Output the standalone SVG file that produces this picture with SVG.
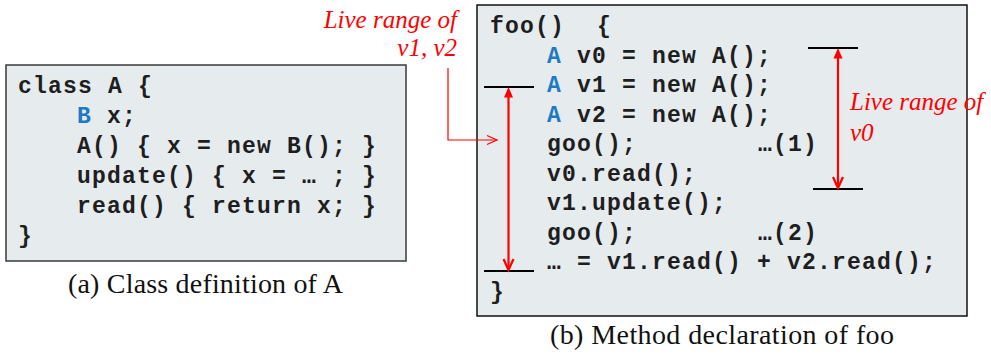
<svg xmlns="http://www.w3.org/2000/svg" width="991" height="362" viewBox="0 0 991 362">
  <style>
    .box { fill: #e6ebee; stroke: #3a3a3a; stroke-width: 1.5; }
    .code { font-family: "Liberation Mono", "Courier New", monospace; font-weight: bold; font-size: 23px; letter-spacing: 1.2px; fill: #1e1e1e; }
    .kw { fill: #1f7ac4; }
    .note { font-family: "Liberation Serif", "Times New Roman", serif; font-style: italic; font-size: 25px; fill: #ff0000; }
    .caption { font-family: "Liberation Serif", "Times New Roman", serif; font-size: 28px; fill: #111; }
    .bar { stroke: #000; stroke-width: 2.2; }
    .range { stroke: #ff0000; stroke-width: 2.2; fill: none; }
    .pointer { stroke: #ff0000; stroke-width: 1.2; fill: none; }
  </style>
  <defs>
    <marker id="chevron" markerUnits="userSpaceOnUse" orient="auto" refX="0" refY="0" overflow="visible">
      <path d="M-10,-4.5 L0,0 L-10,4.5" fill="none" stroke="#ff0000" stroke-width="1.2"/>
    </marker>
  </defs>

  <!-- (a) class A -->
  <g id="classA">
    <rect class="box" x="6" y="65" width="400" height="196"/>
    <text class="code" x="18" y="93">class A {</text>
    <text class="code" x="77" y="123"><tspan class="kw">B</tspan> x;</text>
    <text class="code" x="77" y="153">A() { x = new B(); }</text>
    <text class="code" x="77" y="183">update() { x = … ; }</text>
    <text class="code" x="77" y="213">read() { return x; }</text>
    <text class="code" x="18" y="243">}</text>
  </g>

  <!-- (b) foo -->
  <g id="fooMethod">
    <rect class="box" x="477" y="5" width="490" height="311" style="stroke:#111"/>
    <text class="code" x="490" y="33">foo()</text>
    <text class="code" x="597" y="33">{</text>
    <text class="code" x="547" y="63"><tspan class="kw">A</tspan> v0 = new A();</text>
    <text class="code" x="547" y="92"><tspan class="kw">A</tspan> v1 = new A();</text>
    <text class="code" x="547" y="122"><tspan class="kw">A</tspan> v2 = new A();</text>
    <text class="code" x="547" y="151">goo();</text>
    <text class="code" x="758" y="151">…(1)</text>
    <text class="code" x="547" y="181">v0.read();</text>
    <text class="code" x="547" y="210">v1.update();</text>
    <text class="code" x="547" y="240">goo();</text>
    <text class="code" x="758" y="240">…(2)</text>
    <text class="code" x="547" y="269">… = v1.read() + v2.read();</text>
    <text class="code" x="490" y="299">}</text>
  </g>

  <!-- live range labels -->
  <g id="labelV1V2">
    <text class="note" x="457" y="28" text-anchor="end">Live range of</text>
    <text class="note" x="457" y="56" text-anchor="end">v1, v2</text>
  </g>
  <g id="labelV0">
    <text class="note" x="850" y="110">Live range of</text>
    <text class="note" x="850" y="141">v0</text>
  </g>

  <!-- captions -->
  <g id="captionA">
    <text class="caption" x="68" y="293" textLength="275">(a) Class definition of A</text>
  </g>
  <g id="captionB">
    <text class="caption" x="550" y="344" textLength="344">(b) Method declaration of foo</text>
  </g>

  <!-- connectors: live-range arrows and pointer -->
  <g id="connectors">
    <line class="bar" x1="484" y1="87" x2="534" y2="87"/>
    <line class="bar" x1="484" y1="271" x2="534" y2="271"/>
    <line class="range" x1="508.5" y1="97" x2="508.5" y2="268"/>
    <path d="M508.5,87 L504,97.5 L513,97.5 Z" fill="#ff0000"/>
    <path class="range" d="M503.5,259 L508.5,270 L513.5,259"/>

    <line class="bar" x1="808" y1="48" x2="858" y2="48"/>
    <line class="bar" x1="813" y1="189" x2="863" y2="189"/>
    <line class="range" x1="838" y1="58" x2="838" y2="186"/>
    <path d="M838,48 L833.5,58.5 L842.5,58.5 Z" fill="#ff0000"/>
    <path class="range" d="M833,177 L838,188 L843,177"/>

    <path class="pointer" d="M448,68 L448,140 L497,140" marker-end="url(#chevron)"/>
  </g>
</svg>
